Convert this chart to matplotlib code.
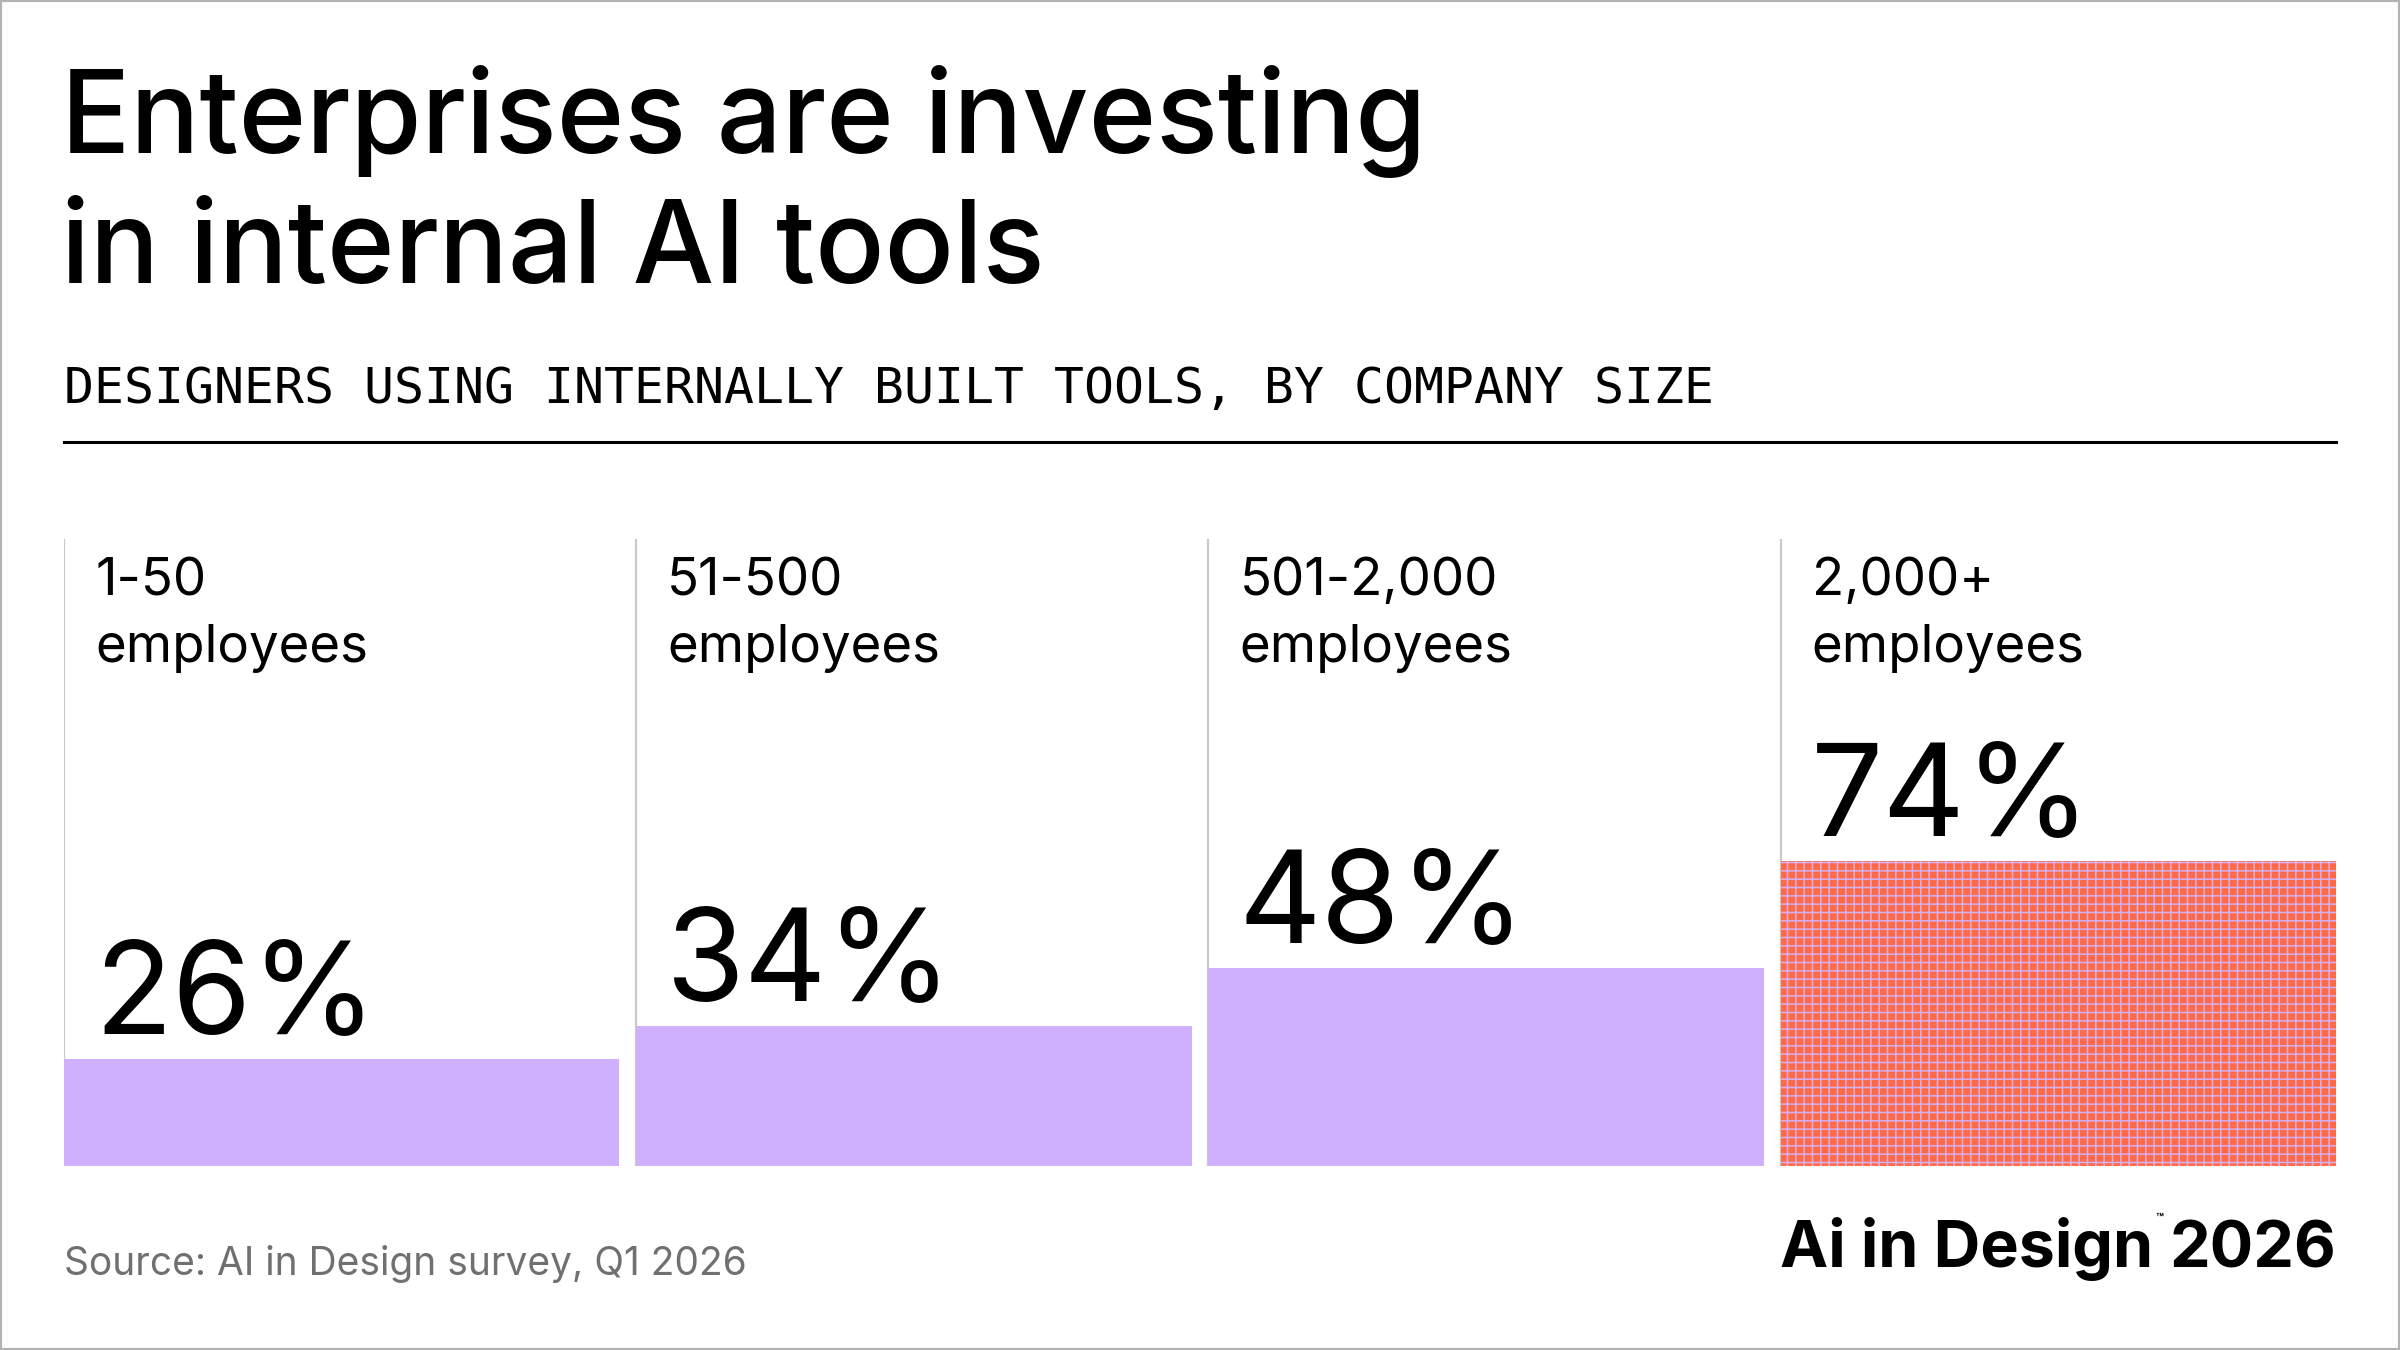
import matplotlib
matplotlib.use("Agg")
import matplotlib.pyplot as plt
from matplotlib.patches import Rectangle

# data
sizes = ["1-50", "51-500", "501-2,000", "2,000+"]
share = [26, 34, 48, 74]
title = "Enterprises are investing\nin internal AI tools"
subtitle = "DESIGNERS USING INTERNALLY BUILT TOOLS, BY COMPANY SIZE"
source = "Source: AI in Design survey, Q1 2026"

# styles
bar_colors = ["#cfb0ff", "#cfb0ff", "#cfb0ff", "#ff6a45"]
W, H = 2400, 1350
SANS = ["Inter", "DejaVu Sans"]
MONO = ["DejaVu Sans Mono"]

plt.rcParams["hatch.linewidth"] = 1.1

fig = plt.figure(figsize=(24, 13.5), dpi=100)
fig.patch.set_facecolor("white")


def fx(px):
    return px / W


def fy(py):
    return 1 - py / H


# title + subtitle
lines = title.split("\n")
for i, line in enumerate(lines):
    fig.text(fx(61), fy(153 + 130 * i), line, fontsize=82.8, family=SANS,
             weight="medium", va="baseline", ha="left")
fig.text(fx(64), fy(403), subtitle, fontsize=35.8, family=MONO,
         va="baseline", ha="left")
fig.add_artist(plt.Line2D([fx(64), fx(2336)], [fy(442), fy(442)],
                          color="black", lw=2.2))

# bars
pitch_px = 573
bar_w = 556 / pitch_px
ax = fig.add_axes([fx(64), fy(1166), fx(2336) - fx(64), fy(539) - fy(1166)])
ax.set_xlim(0, len(share) - 1 + bar_w)
ax.set_ylim(0, 152)
ax.axis("off")

xs = list(range(len(share)))
ax.vlines(xs, 0, 152, color="#c9c9c9", lw=1.6, zorder=1)
bars = ax.bar(xs, share, width=bar_w, align="edge", color=bar_colors,
              linewidth=0, zorder=2)
bars[-1].set_hatch("++")
bars[-1].set_edgecolor("#d6b0f0")
bars[-1].set_linewidth(0)

for x, v, s in zip(xs, share, sizes):
    ax.annotate(f"{v}%", xy=(x, v), xytext=(30, 25),
                textcoords="offset pixels", fontsize=92, family=SANS,
                ha="left", va="baseline")
    ax.annotate(s, xy=(x, 152), xytext=(31, -56),
                textcoords="offset pixels", fontsize=38, family=SANS,
                ha="left", va="baseline")
    ax.annotate("employees", xy=(x, 152), xytext=(31, -123),
                textcoords="offset pixels", fontsize=38, family=SANS,
                ha="left", va="baseline")

# footer
fig.text(fx(64), fy(1275), source, fontsize=28, family=SANS,
         color="#707070", va="baseline", ha="left")

renderer = fig.canvas.get_renderer()
year = fig.text(fx(2336), fy(1267), "2026", fontsize=46.5, family=SANS,
                weight="bold", va="baseline", ha="right")
bb = year.get_window_extent(renderer)
tm = fig.text((bb.x0 - 6) / W, fy(1222), "\u2122", fontsize=9, family=SANS,
              weight="bold", va="baseline", ha="right")
bb_tm = tm.get_window_extent(renderer)
fig.text((bb_tm.x0 - 2) / W, fy(1267), "Ai in Design", fontsize=46.5,
         family=SANS, weight="bold", va="baseline", ha="right")

# frame
fig.add_artist(Rectangle((0, 0), 1, 1, transform=fig.transFigure,
                         fill=False, edgecolor="#b3b3b3", lw=3))

fig.savefig("out.png", dpi=100, facecolor="white")
